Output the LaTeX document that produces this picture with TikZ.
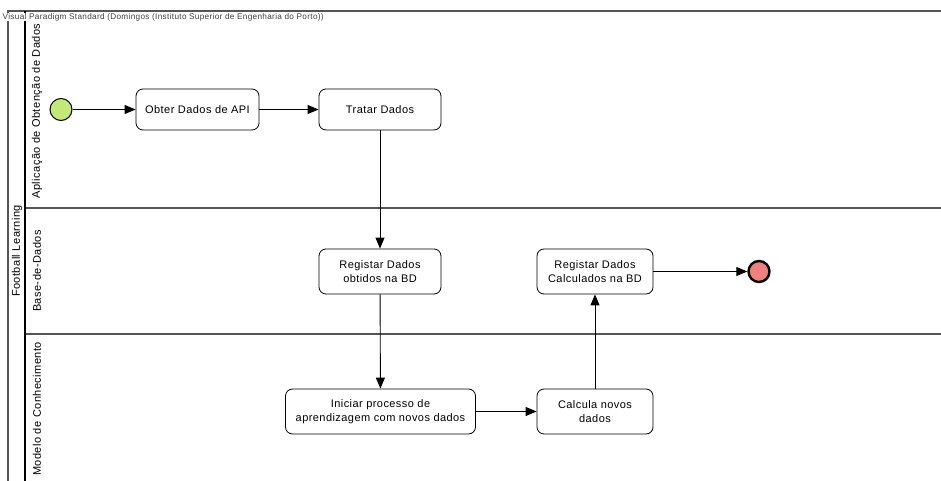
\documentclass[tikz,border=0pt]{standalone}
\usepackage{fontspec}
\setmainfont{Liberation Sans}[LetterSpace=4]
\usetikzlibrary{arrows.meta}
\definecolor{startgreen}{HTML}{C2E87A}
\definecolor{endred}{HTML}{F08080}
\definecolor{poolline}{HTML}{555555}
\begin{document}
\begin{tikzpicture}[x=1pt,y=-1pt,
  every node/.style={font=\fontsize{11}{13.5}\selectfont},
  task/.style={draw=black, line width=0.8pt, rounded corners=7pt, fill=white, align=center, inner sep=0pt},
  flow/.style={draw=black, line width=0.9pt, -{Triangle[length=11pt,width=9pt]}},
  lanelabel/.style={rotate=90, font=\fontsize{11}{13}\selectfont},
  poolrule/.style={draw=poolline, line width=1.4pt},
]
\useasboundingbox (0,0) rectangle (941,481);
% pool frame
\draw[poolrule] (8,481) -- (8,11) -- (941,11);
\draw[poolrule] (25,208) -- (941,208);
\draw[poolrule] (25,334) -- (941,334);
\draw[draw=black, line width=2pt] (25,11) -- (25,481);
% watermark
\node[anchor=west, fill=white, inner sep=0.5pt, text=black!75, font=\fontsize{8.2}{9}\selectfont] (wm) at (2,17) {Visual Paradigm Standard (Domingos (Instituto Superior de Engenharia do Porto))};
% labels
\node[lanelabel] (pool) at (17,251) {Football Learning};
\node[lanelabel] (l1) at (37,111) {Aplicação de Obtenção de Dados};
\node[lanelabel] (l2) at (37,271) {Base-de-Dados};
\node[lanelabel] (l3) at (37,409) {Modelo de Conhecimento};
% events
\node[circle, draw=black, line width=1pt, fill=startgreen, minimum size=22pt, inner sep=0pt] (start) at (61,109.5) {};
\node[circle, draw=black, line width=2.4pt, fill=endred, minimum size=21pt, inner sep=0pt] (end) at (759,271.5) {};
% tasks
\node[task, minimum width=123pt, minimum height=41pt] (obter) at (197.5,109.5) {Obter Dados de API};
\node[task, minimum width=122pt, minimum height=41pt] (tratar) at (380,109.5) {Tratar Dados};
\node[task, minimum width=122pt, minimum height=45pt] (regob) at (380,271.5) {Registar Dados\\obtidos na BD};
\node[task, minimum width=116pt, minimum height=45pt] (regcalc) at (595,271.5) {Registar Dados\\Calculados na BD};
\node[task, minimum width=190pt, minimum height=45pt] (iniciar) at (380.5,411.5) {Iniciar processo de\\aprendizagem com novos dados};
\node[task, minimum width=116pt, minimum height=45pt] (calcula) at (595,411.5) {Calcula novos\\dados};
% flows
\draw[flow] (start) -- (obter);
\draw[flow] (obter) -- (tratar);
\draw[flow] (tratar) -- (regob);
\draw[flow] (regob) -- (iniciar);
\draw[flow] (iniciar) -- (calcula);
\draw[flow] (calcula) -- (regcalc);
\draw[flow] (regcalc) -- (end);
\end{tikzpicture}
\end{document}
